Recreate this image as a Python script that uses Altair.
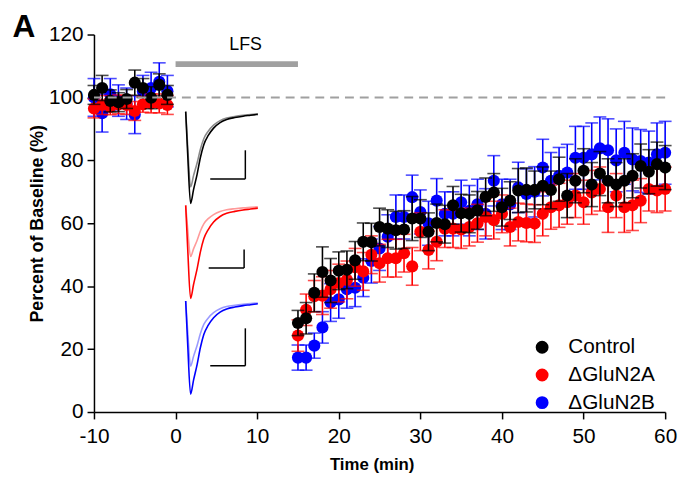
import altair as alt
import pandas as pd

# ---------------- data ----------------
groups = ["Control", "ΔGluN2A", "ΔGluN2B"]
colors = ["#000000", "#ff0000", "#0000ff"]

base_time = [-10, -9, -8, -7, -6, -5, -4, -3, -2, -1]
rec_time = [15, 16, 17, 18, 19, 20, 21, 22, 23, 24, 25, 26, 27, 28, 29, 30,
            31, 32, 33, 34, 35, 36, 37, 38, 39, 40, 41, 42, 43, 44, 45, 46,
            47, 48, 49, 50, 51, 52, 53, 54, 55, 56, 57, 58, 59, 60]

ctrl_base = [100.8, 103.0, 98.9, 98.5, 99.5, 104.7, 103.0, 99.9, 104.0, 100.8]
ctrl_base_err = [3.0, 4.0, 3.5, 3.0, 3.0, 4.0, 3.0, 3.5, 3.5, 3.0]
n2a_base = [96.5, 97.6, 97.0, 97.8, 97.6, 95.7, 97.8, 98.1, 98.1, 97.6]
n2a_base_err = [3.0, 3.0, 2.5, 3.0, 3.0, 3.0, 2.5, 3.0, 3.0, 3.0]
n2b_base = [100.0, 95.0, 101.0, 99.0, 98.0, 94.5, 102.0, 103.0, 105.0, 102.0]
n2b_base_err = [6.0, 6.0, 5.0, 5.0, 5.0, 6.0, 5.0, 5.0, 6.0, 5.0]

ctrl_rec = [28.3, 29.8, 37.9, 44.5, 41.8, 44.9, 45.2, 48.2, 54.1, 54.0,
            58.8, 58.3, 57.8, 58.0, 61.5, 61.5, 57.3, 60.1, 59.7, 65.7,
            63.2, 63.0, 64.1, 68.4, 69.8, 65.1, 67.2, 70.4, 70.6, 70.6,
            71.9, 70.6, 74.0, 68.8, 73.5, 76.7, 72.3, 75.8, 73.5, 72.3,
            73.5, 75.1, 78.2, 76.4, 78.8, 77.7]
ctrl_rec_err = [4, 5, 6, 8, 7, 6, 6, 6, 6, 6, 6, 6, 6, 6, 7, 6, 6, 6, 6, 6,
                6, 6, 6, 6, 6, 6, 6, 7, 7, 6, 6, 6, 7, 7, 7, 7, 7, 7, 7, 7,
                7, 7, 7, 7, 7, 7]
n2a_rec = [24.3, 32.5, 36.8, 37.0, 39.0, 41.0, 42.0, 46.0, 44.7, 50.0,
           47.3, 48.9, 48.9, 50.5, 46.3, 57.3, 51.5, 54.1, 58.3, 58.3,
           58.0, 58.8, 60.0, 62.0, 61.0, 63.0, 58.8, 60.4, 60.1, 59.9,
           63.0, 65.1, 65.7, 66.7, 68.8, 66.7, 69.8, 70.9, 65.1, 68.8,
           65.1, 65.7, 67.2, 70.9, 70.4, 70.9]
n2a_rec_err = [5, 5, 5, 6, 6, 6, 6, 6, 6, 6, 6, 6, 6, 6, 6, 6, 6, 6, 6, 6,
               6, 6, 6, 6, 6, 6, 6, 6, 6, 6, 7, 7, 7, 7, 7, 7, 7, 7, 8, 7,
               8, 8, 7, 7, 7, 7]
n2b_rec = [17.3, 17.3, 21.1, 26.9, 34.8, 35.8, 39.0, 39.5, 42.7, 48.0,
           52.0, 55.7, 62.0, 62.0, 68.3, 63.6, 60.0, 67.2, 63.0, 63.0,
           66.7, 64.0, 66.0, 63.0, 73.5, 66.0, 66.0, 71.4, 69.3, 70.0,
           77.7, 73.5, 75.1, 76.1, 80.8, 80.8, 81.9, 83.8, 83.2, 80.0,
           82.4, 80.3, 79.8, 79.3, 81.9, 82.4]
n2b_rec_err = [4, 4, 4, 5, 6, 6, 6, 6, 6, 7, 7, 7, 7, 7, 7, 7, 7, 7, 7, 7,
               7, 8, 8, 8, 8, 8, 8, 8, 8, 8, 9, 9, 9, 9, 10, 10, 10, 10, 10, 10,
               10, 10, 10, 10, 10, 10]

lfs_start, lfs_end = 0, 15
lfs_label = "LFS"
baseline_level = 100

# normalised EPSC trace shape (fraction of trace duration, fraction of peak)
trace_u = [0.0, 0.027, 0.068, 0.109, 0.159, 0.204, 0.251, 0.313, 0.387,
           0.477, 0.568, 0.681, 0.796, 0.899, 1.0]
trace_amp = [0.0, -0.45, -1.0, -0.85, -0.68, -0.5, -0.36, -0.26, -0.18,
             -0.12, -0.086, -0.065, -0.05, -0.04, -0.03]
# relative amplitude of the post-LFS trace (light) vs. baseline trace (dark)
light_ratio = [0.82, 0.55, 0.70]
dark_colors = ["#000000", "#ff0000", "#0000ff"]
light_colors = ["#8a8a8a", "#ff9a9a", "#9a9aff"]

# ---------------- tables ----------------
rows = []
series = [
    (groups[0], ctrl_base, ctrl_base_err, ctrl_rec, ctrl_rec_err),
    (groups[1], n2a_base, n2a_base_err, n2a_rec, n2a_rec_err),
    (groups[2], n2b_base, n2b_base_err, n2b_rec, n2b_rec_err),
]
for g, bv, be, rv, re in series:
    for t, v, e in zip(base_time + rec_time, bv + rv, be + re):
        rows.append({"group": g, "time": t, "value": v, "lo": v - e, "hi": v + e})
df = pd.DataFrame(rows)

# inset layout (in axis units)
inset_x0, inset_w = 1.24, 8.84
inset_base = [95.5, 65.7, 35.3]
inset_depth = [29.2, 29.6, 29.6]
bar_x = [(4.25, 8.55, 74.1, 83.2), (4.06, 8.4, 45.8, 51.7), (4.25, 8.55, 14.7, 26.6)]

W, H = 578, 382

color_scale = alt.Scale(domain=groups, range=colors)
X = alt.X("time:Q", scale=alt.Scale(domain=[-10, 60], nice=False),
          axis=alt.Axis(values=[-10, 0, 10, 20, 30, 40, 50, 60], title="Time (min)",
                        titleFontSize=17, labelFlush=False, labelPadding=7,
                        titleX=281, titleY=53, titleBaseline="middle",
                        labelExpr="datum.value"))
Y = alt.Y("value:Q", scale=alt.Scale(domain=[0, 120], nice=False),
          axis=alt.Axis(values=[0, 20, 40, 60, 80, 100, 120], labelFlush=False,
                        title="Percent of Baseline (%)", titlePadding=2))

layers = []

# inset traces
for i in range(3):
    for kind in ["light", "dark"]:
        depth = inset_depth[i] * (light_ratio[i] if kind == "light" else 1.0)
        tr = pd.DataFrame({
            "x": [inset_x0 + u * inset_w for u in trace_u],
            "y": [inset_base[i] + a * depth for a in trace_amp],
        })
        col = light_colors[i] if kind == "light" else dark_colors[i]
        layers.append(alt.Chart(tr).mark_line(color=col, strokeWidth=1.6,
                                              interpolate="monotone").encode(
            x=alt.X("x:Q"), y=alt.Y("y:Q")))
sb = pd.DataFrame([{"x": b[0], "x2": b[1], "ylo": b[2], "yhi": b[3]} for b in bar_x])
layers.append(alt.Chart(sb).mark_rule(color="black", strokeWidth=1.5).encode(
    x="x:Q", x2="x2:Q", y="ylo:Q"))
layers.append(alt.Chart(sb).mark_rule(color="black", strokeWidth=1.5).encode(
    x="x2:Q", y="ylo:Q", y2="yhi:Q"))

# data series, drawn blue, red, black (black on top)
for gi in [2, 1, 0]:
    g = groups[gi]
    col = colors[gi]
    d = df[df.group == g]
    base = alt.Chart(d)
    layers.append(base.mark_rule(strokeWidth=1.6, color=col).encode(
        x="time:Q", y="lo:Q", y2="hi:Q"))
    layers.append(base.mark_tick(orient="horizontal", size=13, thickness=1.6, color=col).encode(
        x="time:Q", y="lo:Q"))
    layers.append(base.mark_tick(orient="horizontal", size=13, thickness=1.6, color=col).encode(
        x="time:Q", y="hi:Q"))
    layers.append(base.mark_circle(size=150, opacity=1).encode(
        x=X, y=Y,
        color=alt.Color("group:N", scale=color_scale,
                        legend=alt.Legend(title=None, orient="none", legendX=443,
                                          legendY=306, symbolType="circle",
                                          symbolSize=170, labelFontSize=21,
                                          labelFont="Liberation Sans",
                                          labelColor="black",
                                          labelOffset=16, rowPadding=6,
                                          padding=0, symbolStrokeWidth=0))))

# dashed 100% line
layers.append(alt.Chart(pd.DataFrame({"y": [baseline_level]})).mark_rule(
    color="#a0a0a0", strokeWidth=2, strokeDash=[9, 6]).encode(y="y:Q"))

# LFS bar and label
lfs = pd.DataFrame({"x": [lfs_start], "x2": [lfs_end], "y": [110.6],
                    "xm": [(lfs_start + lfs_end) / 2], "ty": [116.5], "t": [lfs_label]})
layers.append(alt.Chart(lfs).mark_rule(color="#a0a0a0", strokeWidth=6).encode(
    x="x:Q", x2="x2:Q", y="y:Q"))
layers.append(alt.Chart(lfs).mark_text(fontSize=18, font="Liberation Sans",
                                       baseline="middle", dx=9).encode(
    x="xm:Q", y="ty:Q", text="t:N"))

# panel letter
layers.append(alt.Chart(pd.DataFrame({"t": ["A"]})).mark_text(
    fontSize=32, fontWeight="bold", font="Liberation Sans", baseline="middle",
    align="center").encode(x=alt.value(-71), y=alt.value(-7), text="t:N"))

chart = alt.layer(*layers).properties(
    width=W, height=H,
    autosize=alt.AutoSizeParams(type="none"),
    padding={"left": 87, "top": 24, "right": 13, "bottom": 70},
).configure_view(stroke=None).configure_axis(
    grid=False, labelFont="Liberation Sans", labelFontSize=21, labelColor="black",
    titleFont="Liberation Sans", titleFontSize=18, titleFontWeight="bold",
    titleColor="black", domainColor="black", tickColor="black", domainWidth=1.5,
    tickWidth=1.5, tickSize=7, labelPadding=4,
)

chart.save("out.html", embed_options={"renderer": "svg", "actions": False})
